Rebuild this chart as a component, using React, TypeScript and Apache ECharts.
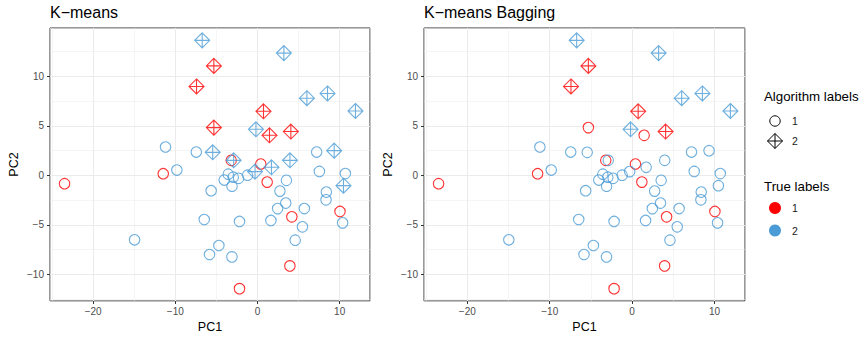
import React, { useEffect, useRef } from "react";
import * as echarts from "echarts";

// PCA coordinates of the observations
const pc1 = [
  -6.73, 3.21, -5.31, -7.42, 6.01, 8.52, 11.92, 0.73, -5.31, -0.19, 1.46, 4.06,
  -11.19, -7.45, -5.45, 7.2, 9.33, -3.2, -2.9, 3.95, 0.4, 1.7, -0.3, -23.48,
  -11.47, -9.81, -3.56, -4.05, -2.95, -2.3, -1.21, -3.1, -5.64, 1.18, 3.52, 2.73,
  3.44, 2.45, 5.7, 7.53, 10.69, 10.46, 8.38, 8.34, 10.04, 10.36, 4.18, 1.63,
  5.47, 4.59, -6.48, -2.19, -14.96, -4.7, -5.84, -3.11, 3.94, -2.19,
];
const pc2 = [
  13.65, 12.36, 11.07, 8.99, 7.8, 8.28, 6.51, 6.48, 4.83, 4.66, 4.05, 4.43,
  2.87, 2.36, 2.33, 2.36, 2.5, 1.52, 1.52, 1.52, 1.15, 0.82, 0.38, -0.84,
  0.17, 0.54, 0.12, -0.47, -0.18, -0.3, 0.02, -1.1, -1.55, -0.68, -0.5, -1.59,
  -2.8, -3.36, -3.35, 0.4, 0.18, -1.04, -1.69, -2.47, -3.65, -4.8, -4.19, -4.56,
  -5.2, -6.55, -4.46, -4.66, -6.51, -7.09, -8.0, -8.24, -9.15, -11.45,
];
const trueLabel = [
  2, 2, 1, 1, 2, 2, 2, 1, 1, 2, 1, 1,
  2, 2, 2, 2, 2, 1, 2, 2, 1, 2, 2, 1,
  1, 2, 2, 2, 2, 2, 2, 2, 2, 1, 2, 2,
  2, 2, 2, 2, 2, 2, 2, 2, 1, 2, 1, 2,
  2, 2, 2, 2, 2, 2, 2, 2, 1, 1,
];
const kmeansLabel = [
  2, 2, 2, 2, 2, 2, 2, 2, 2, 2, 2, 2,
  1, 1, 2, 1, 2, 1, 2, 2, 1, 2, 2, 1,
  1, 1, 1, 1, 1, 1, 1, 1, 1, 1, 1, 1,
  1, 1, 1, 1, 1, 2, 1, 1, 1, 1, 1, 1,
  1, 1, 1, 1, 1, 1, 1, 1, 1, 1,
];
const baggingLabel = [
  2, 2, 2, 2, 2, 2, 2, 2, 1, 2, 1, 2,
  1, 1, 1, 1, 1, 1, 1, 1, 1, 1, 1, 1,
  1, 1, 1, 1, 1, 1, 1, 1, 1, 1, 1, 1,
  1, 1, 1, 1, 1, 1, 1, 1, 1, 1, 1, 1,
  1, 1, 1, 1, 1, 1, 1, 1, 1, 1,
];

const panelTitles = ["K\u2212means", "K\u2212means Bagging"];
const xTicks = [-20, -10, 0, 10];
const yTicks = [-10, -5, 0, 5, 10];
const algorithmLegend = ["1", "2"];
const trueLegend = ["1", "2"];

const RED = "#FF0000";
const BLUE = "#4A9BD6";
const FONT = "Liberation Sans, Arial, sans-serif";
const DIAMOND = "path://M10,0 L20,10 L10,20 L0,10 Z M10,0 L10,20 M0,10 L20,10";

const xMin = -25.25, xMax = 13.69, yMin = -12.7, yMax = 14.9;

const fmtMinus = (v: number) => (v < 0 ? "\u2212" + Math.abs(v) : String(v));

const grids = [
  { left: 50, top: 28, width: 320, height: 273 },
  { left: 424, top: 28, width: 321, height: 273 },
];

export default function App() {
  const ref = useRef<HTMLDivElement>(null);
  useEffect(() => {
    if (!ref.current) return;
    const chart = echarts.init(ref.current, null, { renderer: "svg" });

    const xAxes: any[] = [];
    const yAxes: any[] = [];
    const series: any[] = [];

    grids.forEach((g, gi) => {
      // major axis (labels, ticks, major grid)
      xAxes.push({
        type: "value", gridIndex: gi, position: "bottom", min: xMin, max: xMax,
        minInterval: 10, maxInterval: 10, splitNumber: 4,
        axisLine: { show: false, onZero: false },
        axisTick: { show: true, length: 3, customValues: xTicks, lineStyle: { color: "#333" } },
        axisLabel: {
          color: "#4D4D4D", fontSize: 10, fontFamily: FONT, margin: 5, customValues: xTicks,
          formatter: (v: number) => (xTicks.some((t) => Math.abs(t - v) < 1e-6) ? fmtMinus(v) : ""),
        },
        splitLine: { show: true, lineStyle: { color: "#EBEBEB", width: 1 } },
        name: "PC1", nameLocation: "middle", nameGap: 18,
        nameTextStyle: { color: "#000", fontSize: 12.5, fontFamily: FONT },
        z: 2,
      });
      // minor grid axis
      xAxes.push({
        type: "value", gridIndex: gi, position: "top", min: xMin, max: xMax,
        minInterval: 5, maxInterval: 5, splitNumber: 8,
        axisLine: { show: false, onZero: false }, axisTick: { show: false }, axisLabel: { show: false },
        splitLine: { show: true, lineStyle: { color: "#EBEBEB", width: 0.5 } },
        z: 1,
      });
      yAxes.push({
        type: "value", gridIndex: gi, position: "left", min: yMin, max: yMax,
        minInterval: 5, maxInterval: 5, splitNumber: 5,
        axisLine: { show: false, onZero: false },
        axisTick: { show: true, length: 3, customValues: yTicks, lineStyle: { color: "#333" } },
        axisLabel: {
          color: "#4D4D4D", fontSize: 10, fontFamily: FONT, margin: 6, customValues: yTicks,
          formatter: (v: number) => (yTicks.some((t) => Math.abs(t - v) < 1e-6) ? fmtMinus(v) : ""),
        },
        splitLine: { show: true, lineStyle: { color: "#EBEBEB", width: 1 } },
        name: "PC2", nameLocation: "middle", nameGap: 30,
        nameTextStyle: { color: "#000", fontSize: 12.5, fontFamily: FONT },
        z: 2,
      });
      yAxes.push({
        type: "value", gridIndex: gi, position: "right", min: yMin, max: yMax,
        minInterval: 2.5, maxInterval: 2.5, splitNumber: 11,
        axisLine: { show: false, onZero: false }, axisTick: { show: false }, axisLabel: { show: false },
        splitLine: { show: true, lineStyle: { color: "#EBEBEB", width: 0.5 } },
        z: 1,
      });

      const algo = gi === 0 ? kmeansLabel : baggingLabel;
      const data = pc1.map((x, i) => {
        const col = trueLabel[i] === 1 ? RED : BLUE;
        const isDiamond = algo[i] === 2;
        return {
          value: [x, pc2[i]],
          symbol: isDiamond ? DIAMOND : "circle",
          symbolSize: isDiamond ? 15 : 10.5,
          itemStyle: { color: "transparent", borderColor: col, borderWidth: 1.1 },
        };
      });
      series.push({
        type: "scatter",
        xAxisIndex: gi * 2,
        yAxisIndex: gi * 2,
        data,
        z: 5,
        silent: true,
      });
    });

    const lx = 775;
    const graphic: any[] = [
      { type: "text", x: 764, y: 96, style: { text: "Algorithm labels", fontSize: 13.3, fontFamily: FONT, fill: "#000", verticalAlign: "middle" } },
      { type: "circle", shape: { cx: lx, cy: 121, r: 5.2 }, style: { fill: "none", stroke: "#000", lineWidth: 1 } },
      { type: "text", x: 792, y: 121, style: { text: algorithmLegend[0], fontSize: 10.5, fontFamily: FONT, fill: "#1A1A1A", verticalAlign: "middle" } },
      { type: "polygon", shape: { points: [[lx, 133.5], [lx + 7.5, 141], [lx, 148.5], [lx - 7.5, 141]] }, style: { fill: "none", stroke: "#000", lineWidth: 1 } },
      { type: "line", shape: { x1: lx, y1: 133.5, x2: lx, y2: 148.5 }, style: { stroke: "#000", lineWidth: 1 } },
      { type: "line", shape: { x1: lx - 7.5, y1: 141, x2: lx + 7.5, y2: 141 }, style: { stroke: "#000", lineWidth: 1 } },
      { type: "text", x: 792, y: 141, style: { text: algorithmLegend[1], fontSize: 10.5, fontFamily: FONT, fill: "#1A1A1A", verticalAlign: "middle" } },
      { type: "text", x: 764, y: 186, style: { text: "True labels", fontSize: 13.3, fontFamily: FONT, fill: "#000", verticalAlign: "middle" } },
      { type: "circle", shape: { cx: lx, cy: 208, r: 6 }, style: { fill: RED } },
      { type: "text", x: 792, y: 208, style: { text: trueLegend[0], fontSize: 10.5, fontFamily: FONT, fill: "#1A1A1A", verticalAlign: "middle" } },
      { type: "circle", shape: { cx: lx, cy: 230.5, r: 6 }, style: { fill: BLUE } },
      { type: "text", x: 792, y: 230.5, style: { text: trueLegend[1], fontSize: 10.5, fontFamily: FONT, fill: "#1A1A1A", verticalAlign: "middle" } },
    ];

    chart.setOption({
      animation: false,
      backgroundColor: "#fff",
      textStyle: { fontFamily: FONT },
      title: panelTitles.map((t, i) => ({
        text: t, left: grids[i].left, top: 4, padding: 0,
        textStyle: { fontSize: 16, fontWeight: "normal", color: "#000", fontFamily: FONT },
      })),
      grid: grids.map((g) => ({ ...g, show: true, borderColor: "#333", borderWidth: 1, backgroundColor: "transparent", containLabel: false })),
      xAxis: xAxes,
      yAxis: yAxes,
      series,
      graphic,
    });
    return () => chart.dispose();
  }, []);
  return <div ref={ref} style={{ width: 865, height: 340, position: "absolute", left: 0, top: 0 }} />;
}
